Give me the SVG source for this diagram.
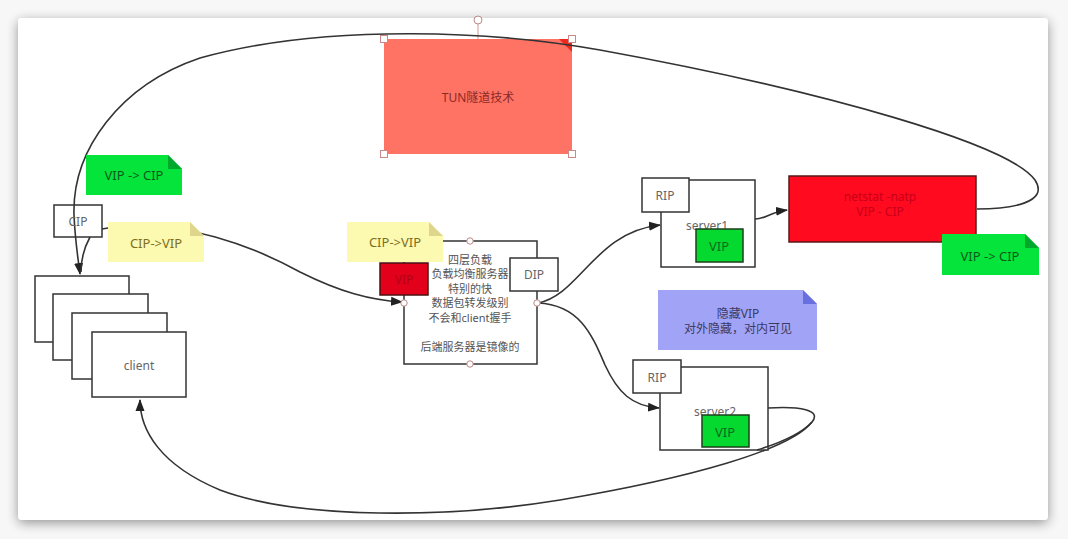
<svg xmlns="http://www.w3.org/2000/svg" width="1068" height="539" viewBox="0 0 1068 539">
<defs>
<filter id="sh" x="-5%" y="-5%" width="110%" height="115%">
<feGaussianBlur in="SourceAlpha" stdDeviation="6"/>
<feOffset dx="0" dy="3"/>
<feComponentTransfer><feFuncA type="linear" slope="0.4"/></feComponentTransfer>
<feMerge><feMergeNode/><feMergeNode in="SourceGraphic"/></feMerge>
</filter>
<marker id="ah" viewBox="0 0 12 10" refX="11" refY="5" markerWidth="12" markerHeight="10" markerUnits="userSpaceOnUse" orient="auto">
<path d="M0,0.5 L12,5 L0,9.5 Z" fill="#222"/>
</marker>
</defs>
<style>
text{font-family:"Noto Sans","Noto Sans CJK SC",sans-serif;font-size:12px;text-anchor:middle;dominant-baseline:central}
.box{fill:#fff;stroke:#333;stroke-width:1.5}
.lbl{fill:#666}
.conn{fill:none;stroke:#333;stroke-width:1.6}
.gnote{fill:#05e43a}
.gfold{fill:#00a82c}
.gtxt{fill:#0b5a1c;font-size:13px}
.ynote{fill:#fcf9b1}
.yfold{fill:#ddd68c}
.ytxt{fill:#7d6f22;font-size:13px}
.vip{fill:#05d92f;stroke:#1d3f1d;stroke-width:1.5}
.viptxt{fill:#0f6a1c;font-size:13px}
.hdl{fill:#fff;stroke:#c88;stroke-width:1}
.pt{fill:#fff;stroke:#b88;stroke-width:1}
.lbt{fill:#555;font-size:11px}
</style>
<rect x="0" y="0" width="1068" height="539" fill="#f7f7f7"/>
<rect x="18" y="18" width="1030" height="502" rx="4" fill="#fff" filter="url(#sh)"/>

<g id="tun">
<path d="M478,24 L478,39" stroke="#c99" stroke-width="1"/>
<circle cx="478" cy="20" r="4" class="pt"/>
<rect x="384" y="39" width="188" height="115" fill="#ff7365"/>
<path d="M559,39 L572,39 L572,52 Z" fill="#ee2a20"/>
<text x="478" y="97" fill="#8a2a24">TUN隧道技术</text>
<rect x="380.5" y="35.5" width="7" height="7" class="hdl"/>
<rect x="568.5" y="35.5" width="7" height="7" class="hdl"/>
<rect x="380.5" y="150.5" width="7" height="7" class="hdl"/>
<rect x="568.5" y="150.5" width="7" height="7" class="hdl"/>
</g>

<g id="connectors">
<path class="conn" d="M977,209 C1010,209 1050,203 1035,180 C1010,145 830,92 600,50 C500,32 330,22 200,58 C120,85 72,150 74,215 C75,240 78,258 80,274" marker-end="url(#ah)"/>
<path class="conn" d="M90,237 C84,248 81,258 81,272"/>
<path class="conn" d="M102,229 C180,215 260,250 300,272 C340,292 370,300 402,302" marker-end="url(#ah)"/>
<path class="conn" d="M538,303 C580,295 595,232 660,225" marker-end="url(#ah)"/>
<path class="conn" d="M538,303 C580,305 592,335 605,365 C618,393 632,406 659,408" marker-end="url(#ah)"/>
<path class="conn" d="M755,219 C766,219 770,212 787,210" marker-end="url(#ah)"/>
<path class="conn" d="M768,408 C800,406 822,410 812,422 C790,450 690,478 560,500 C450,518 300,520 220,490 C160,465 140,430 140,400" marker-end="url(#ah)"/>
</g>

<g id="note-vip-cip-left">
<path class="gnote" d="M86,155 L168,155 L182,169 L182,195 L86,195 Z"/>
<path class="gfold" d="M168,155 L182,169 L168,169 Z"/>
<text x="134" y="175" class="gtxt">VIP -&gt; CIP</text>
</g>

<g id="cip">
<rect x="54" y="205" width="48" height="32" class="box" fill-opacity="0"/>
<text x="78" y="221" class="lbl">CIP</text>
</g>

<g id="note-cip-vip-left">
<path class="ynote" d="M108,222 L190,222 L204,236 L204,262 L108,262 Z"/>
<path class="yfold" d="M190,222 L204,236 L190,236 Z"/>
<text x="156" y="243" class="ytxt">CIP-&gt;VIP</text>
</g>

<g id="clients">
<rect x="35" y="276" width="94" height="66" class="box"/>
<rect x="53" y="294" width="95" height="66" class="box"/>
<rect x="72" y="313" width="95" height="66" class="box"/>
<rect x="92" y="332" width="94" height="65" class="box"/>
<text x="139" y="365" class="lbl">client</text>
</g>

<g id="lb">
<rect x="404" y="241" width="133" height="123" class="box"/>
<text x="470" y="259" class="lbt">四层负载</text>
<text x="470" y="273.5" class="lbt">负载均衡服务器</text>
<text x="470" y="288" class="lbt">特别的快</text>
<text x="470" y="302.5" class="lbt">数据包转发级别</text>
<text x="470" y="317" class="lbt">不会和client握手</text>
<text x="470" y="346" class="lbt">后端服务器是镜像的</text>
<circle cx="470" cy="241" r="3.2" class="pt"/>
<circle cx="470" cy="364" r="3.2" class="pt"/>
<circle cx="404" cy="303" r="3.2" class="pt"/>
<circle cx="537" cy="303" r="3.2" class="pt"/>
</g>

<g id="lb-vip">
<rect x="380" y="263" width="48" height="32" fill="#e2001b" stroke="#4a1010" stroke-width="1.5"/>
<text x="404" y="279" fill="#b0001a">VIP</text>
</g>

<g id="note-cip-vip-mid">
<path class="ynote" d="M347,222 L429,222 L443,236 L443,262 L347,262 Z"/>
<path class="yfold" d="M429,222 L443,236 L429,236 Z"/>
<text x="395" y="242" class="ytxt">CIP-&gt;VIP</text>
</g>

<g id="dip">
<rect x="510" y="258" width="48" height="33" class="box"/>
<text x="534" y="274" class="lbl">DIP</text>
</g>

<g id="server1">
<rect x="661" y="180" width="94" height="87" class="box"/>
<text x="707" y="225" class="lbl">server1</text>
<rect x="696" y="229" width="47" height="33" class="vip"/>
<text x="719" y="246" class="viptxt">VIP</text>
<rect x="642" y="178" width="47" height="34" class="box"/>
<text x="665" y="195" class="lbl">RIP</text>
</g>

<g id="netstat">
<rect x="789" y="176" width="187" height="66" fill="#ff0a1e" stroke="#5a1a1a" stroke-width="1.5"/>
<text x="880" y="196" fill="#c8001a">netstat -natp</text>
<text x="880" y="211" fill="#c8001a">VIP - CIP</text>
</g>

<g id="note-vip-cip-right">
<path class="gnote" d="M942,234 L1025,234 L1039,248 L1039,275 L942,275 Z"/>
<path class="gfold" d="M1025,234 L1039,248 L1025,248 Z"/>
<text x="990" y="256" class="gtxt">VIP -&gt; CIP</text>
</g>

<g id="note-hide-vip">
<path d="M658,290 L803,290 L817,304 L817,350 L658,350 Z" fill="#a1a4f6"/>
<path d="M803,290 L817,304 L803,304 Z" fill="#6a6fe0"/>
<text x="738" y="313" fill="#3a3a66">隐藏VIP</text>
<text x="738" y="328" fill="#3a3a66">对外隐藏，对内可见</text>
</g>

<g id="server2">
<rect x="660" y="367" width="108" height="83" class="box"/>
<text x="715" y="411" class="lbl">server2</text>
<rect x="702" y="415" width="47" height="32" class="vip"/>
<text x="725" y="432" class="viptxt">VIP</text>
<rect x="633" y="360" width="48" height="33" class="box"/>
<text x="657" y="377" class="lbl">RIP</text>
</g>
<path class="conn" d="M812,422 C800,435 780,443 757,450"/>
</svg>
